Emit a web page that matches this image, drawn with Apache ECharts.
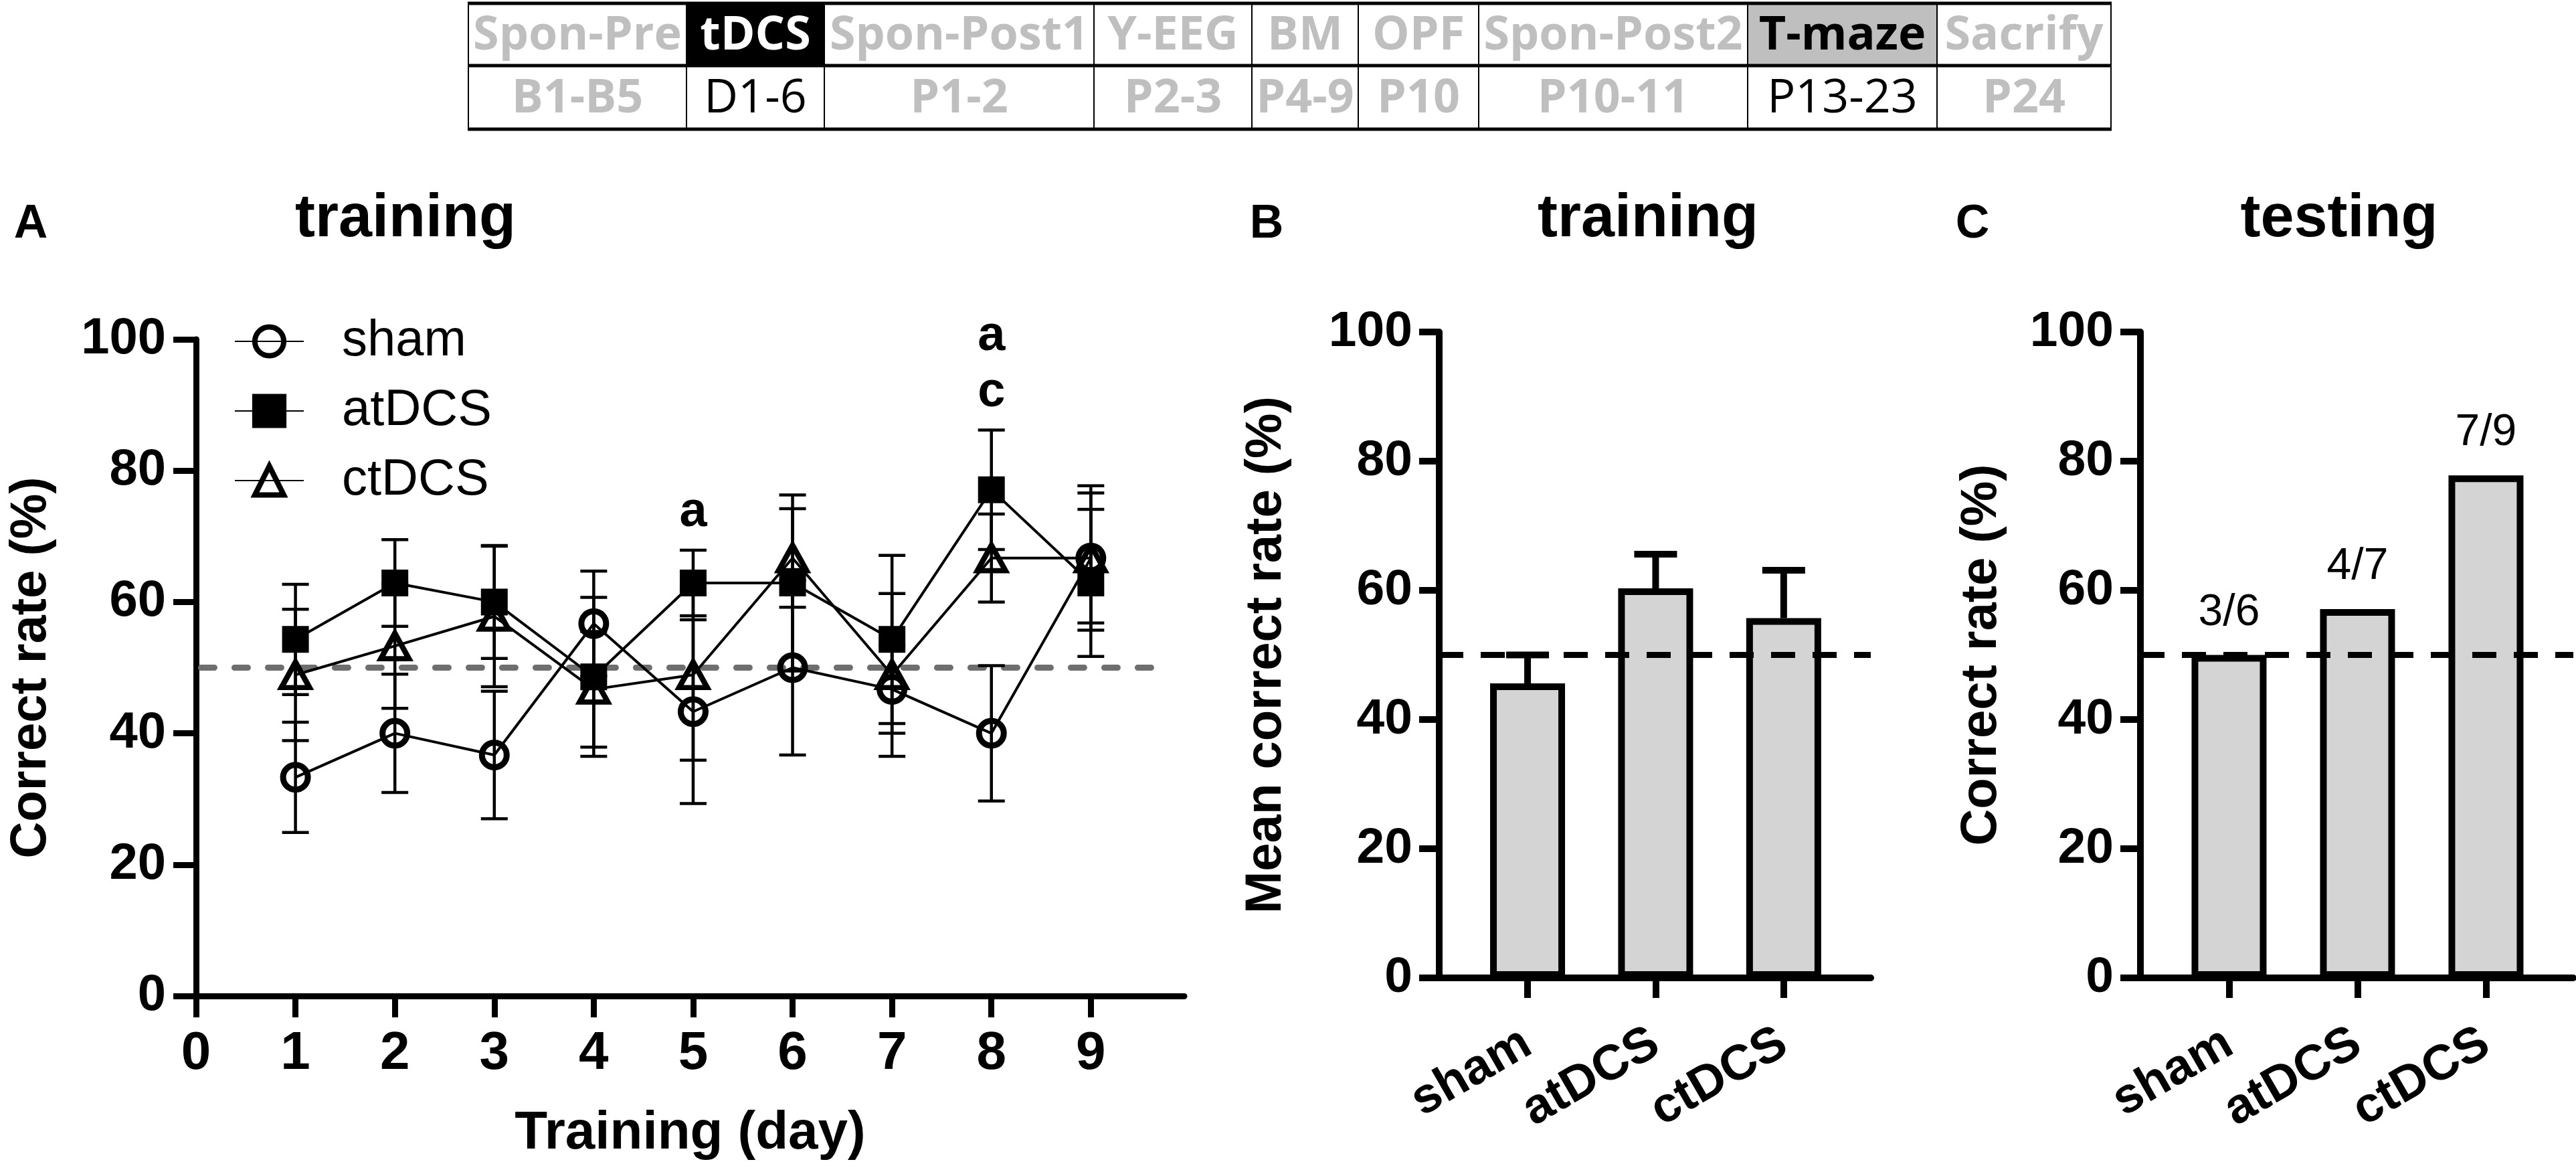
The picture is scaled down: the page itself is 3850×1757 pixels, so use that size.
<!DOCTYPE html>
<html>
<head>
<meta charset="utf-8">
<script src="https://cdn.jsdelivr.net/npm/echarts@6/dist/echarts.min.js"></script>
<style>
  html, body { margin: 0; padding: 0; background: #fff; }
  #main { width: 3850px; height: 1757px; }
</style>
</head>
<body>
<div id="main"></div>
<script>
// ---- data ----
var groups = ['sham', 'atDCS', 'ctDCS'];
var days = [1, 2, 3, 4, 5, 6, 7, 8, 9];
var xTicks = [0, 1, 2, 3, 4, 5, 6, 7, 8, 9];
var yTicks = [0, 20, 40, 60, 80, 100];

var shamMean = [33.3, 40.0, 36.7, 56.7, 43.3, 50.0, 46.7, 40.0, 66.7];
var shamErr  = [8.4, 9.0, 9.7, 8.0, 14.0, 13.3, 6.7, 10.3, 11.0];
var atMean   = [54.3, 62.9, 60.0, 48.6, 62.9, 62.9, 54.3, 77.1, 62.9];
var atErr    = [8.4, 6.6, 8.6, 12.1, 5.0, 13.4, 12.8, 9.1, 11.2];
var ctMean   = [48.9, 53.3, 57.8, 46.7, 48.9, 66.7, 48.9, 66.7, 66.7];
var ctErr    = [10.0, 9.5, 10.7, 8.8, 13.0, 7.5, 12.4, 6.7, 9.9];

var sigDays = [5, 8];
var sigText = ['a', 'a\nc'];

var chanceLevel = 50;

var trainMean = [45.6, 60.3, 55.7];
var trainErr  = [4.4, 5.3, 7.4];

var testRate   = [50.0, 57.1, 77.8];
var testLabels = ['3/6', '4/7', '7/9'];

var phaseNames = ['Spon-Pre', 'tDCS', 'Spon-Post1', 'Y-EEG', 'BM', 'OPF', 'Spon-Post2', 'T-maze', 'Sacrify'];
var phaseDays  = ['B1-B5', 'D1-6', 'P1-2', 'P2-3', 'P4-9', 'P10', 'P10-11', 'P13-23', 'P24'];
var phaseMark  = ['', 'dark', '', '', '', '', '', 'gray', ''];

// ---- layout ----
var FONT = "'Liberation Sans', Arial, sans-serif";
var colEdges = [700, 1026, 1232, 1635, 1871, 2030, 2210, 2612, 2895, 3155];
var rowY = [5, 98, 193];

var chart = echarts.init(document.getElementById('main'));

function pairs(xs, ys) {
    return xs.map(function (x, i) { return [x, ys[i]]; });
}
function triples(xs, ys, es) {
    return xs.map(function (x, i) { return [x, ys[i], es[i]]; });
}

function errRender(capHalf, lw, both) {
    return function (params, api) {
        var x = api.value(0), m = api.value(1), e = api.value(2);
        var top = api.coord([x, m + e]);
        var bot = api.coord([x, both ? m - e : m]);
        var st = { stroke: '#000', lineWidth: lw };
        var kids = [
            { type: 'line', shape: { x1: top[0], y1: top[1], x2: bot[0], y2: bot[1] }, style: st },
            { type: 'line', shape: { x1: top[0] - capHalf, y1: top[1], x2: top[0] + capHalf, y2: top[1] }, style: st }
        ];
        if (both) {
            kids.push({ type: 'line', shape: { x1: bot[0] - capHalf, y1: bot[1], x2: bot[0] + capHalf, y2: bot[1] }, style: st });
        }
        return { type: 'group', children: kids };
    };
}

// table at the top
var table = [];
for (var i = 0; i < phaseNames.length; i++) {
    var x0 = colEdges[i], x1 = colEdges[i + 1], cx = (x0 + x1) / 2;
    var mark = phaseMark[i];
    if (mark) {
        table.push({ type: 'rect', shape: { x: x0, y: rowY[0], width: x1 - x0, height: rowY[1] - rowY[0] },
            style: { fill: mark === 'dark' ? '#000' : '#bfbfbf' } });
    }
    table.push({ type: 'text', x: cx, y: (rowY[0] + rowY[1]) / 2 + 3,
        style: { text: phaseNames[i], fontSize: 70, fontWeight: 'bold', fontFamily: "'Open Sans', sans-serif",
            fill: mark === 'dark' ? '#fff' : (mark ? '#000' : '#bfbfbf'), align: 'center', verticalAlign: 'middle' } });
    table.push({ type: 'text', x: cx, y: (rowY[1] + rowY[2]) / 2 + 3,
        style: { text: phaseDays[i], fontSize: 70, fontWeight: mark ? 'normal' : 'bold', fontFamily: "'Open Sans', sans-serif",
            fill: mark ? '#000' : '#bfbfbf', align: 'center', verticalAlign: 'middle' } });
}
for (var j = 0; j < colEdges.length; j++) {
    table.push({ type: 'line', shape: { x1: colEdges[j], y1: rowY[0], x2: colEdges[j], y2: rowY[2] },
        style: { stroke: '#000', lineWidth: 2 } });
}
rowY.forEach(function (y) {
    table.push({ type: 'line', shape: { x1: colEdges[0] - 1, y1: y, x2: colEdges[colEdges.length - 1] + 1, y2: y },
        style: { stroke: '#000', lineWidth: 5 } });
});

function panelText(x, y, text, size) {
    return { type: 'text', x: x, y: y,
        style: { text: text, fontSize: size, fontWeight: 'bold', fontFamily: FONT, fill: '#000',
            align: 'center', verticalAlign: 'middle' } };
}
var headings = [
    panelText(46, 336, 'A', 70),
    panelText(606, 328, 'training', 90),
    panelText(1893, 336, 'B', 70),
    panelText(2463, 328, 'training', 90),
    panelText(2948, 336, 'C', 70),
    panelText(3496, 328, 'testing', 90)
];

var axisLine = function (w) { return { show: true, onZero: false, lineStyle: { color: '#000', width: w } }; };
var tickLabel = function (size, margin) {
    return { color: '#000', fontSize: size, fontWeight: 'bold', fontFamily: FONT, margin: margin };
};
var yName = { color: '#000', fontSize: 76, fontWeight: 'bold', fontFamily: FONT };

var option = {
    animation: false,
    backgroundColor: '#fff',
    graphic: table.concat(headings),
    legend: {
        data: groups,
        orient: 'vertical',
        left: 345,
        top: 467,
        itemWidth: 103,
        itemHeight: 54,
        itemGap: 28,
        selectedMode: false,
        itemStyle: { borderWidth: 8 },
        textStyle: { color: '#000', fontSize: 76, fontFamily: FONT, padding: [0, 0, 0, 52] }
    },
    grid: [
        { left: 293, top: 507, width: 1477, height: 981 },
        { left: 2151, top: 496, width: 645, height: 965 },
        { left: 3199, top: 496, width: 647, height: 965 }
    ],
    xAxis: [
        {
            gridIndex: 0, type: 'value', min: 0, max: 9.94,
            axisLine: axisLine(9),
            axisTick: { show: true, customValues: xTicks, length: 32, lineStyle: { color: '#000', width: 9 } },
            axisLabel: Object.assign(tickLabel(80, 47), { customValues: xTicks }),
            splitLine: { show: false },
            name: 'Training (day)', nameLocation: 'middle', nameGap: 166,
            nameTextStyle: { color: '#000', fontSize: 80, fontWeight: 'bold', fontFamily: FONT }
        },
        {
            gridIndex: 1, type: 'value', min: -0.69, max: 2.68,
            axisLine: axisLine(10),
            axisTick: { show: true, customValues: [0, 1, 2], length: 30, lineStyle: { color: '#000', width: 10 } },
            axisLabel: Object.assign(tickLabel(74, 93), {
                customValues: [0, 1, 2], rotate: 30,
                formatter: function (v) { return groups[Math.round(v)]; }
            }),
            splitLine: { show: false }
        },
        {
            gridIndex: 2, type: 'value', min: -0.69, max: 2.68,
            axisLine: axisLine(10),
            axisTick: { show: true, customValues: [0, 1, 2], length: 30, lineStyle: { color: '#000', width: 10 } },
            axisLabel: Object.assign(tickLabel(74, 93), {
                customValues: [0, 1, 2], rotate: 30,
                formatter: function (v) { return groups[Math.round(v)]; }
            }),
            splitLine: { show: false }
        }
    ],
    yAxis: [
        {
            gridIndex: 0, type: 'value', min: 0, max: 100, interval: 20,
            axisLine: axisLine(9),
            axisTick: { show: true, length: 34, lineStyle: { color: '#000', width: 9 } },
            axisLabel: Object.assign(tickLabel(76, 45), { customValues: yTicks }),
            splitLine: { show: false },
            name: 'Correct rate (%)', nameLocation: 'middle', nameGap: 208, nameTextStyle: yName
        },
        {
            gridIndex: 1, type: 'value', min: 0, max: 100, interval: 20,
            axisLine: axisLine(10),
            axisTick: { show: true, length: 30, lineStyle: { color: '#000', width: 10 } },
            axisLabel: Object.assign(tickLabel(75, 40), { customValues: yTicks }),
            splitLine: { show: false },
            name: 'Mean correct rate (%)', nameLocation: 'middle', nameGap: 220, nameTextStyle: yName
        },
        {
            gridIndex: 2, type: 'value', min: 0, max: 100, interval: 20,
            axisLine: axisLine(10),
            axisTick: { show: true, length: 30, lineStyle: { color: '#000', width: 10 } },
            axisLabel: Object.assign(tickLabel(75, 40), { customValues: yTicks }),
            splitLine: { show: false },
            name: 'Correct rate (%)', nameLocation: 'middle', nameGap: 199, nameTextStyle: yName
        }
    ],
    series: [
        // panel A error bars
        { type: 'custom', name: 'sham-err', xAxisIndex: 0, yAxisIndex: 0, z: 1,
          renderItem: errRender(20, 4.5, true), encode: { x: 0, y: 1 }, data: triples(days, shamMean, shamErr) },
        { type: 'custom', name: 'atDCS-err', xAxisIndex: 0, yAxisIndex: 0, z: 1,
          renderItem: errRender(20, 4.5, true), encode: { x: 0, y: 1 }, data: triples(days, atMean, atErr) },
        { type: 'custom', name: 'ctDCS-err', xAxisIndex: 0, yAxisIndex: 0, z: 1,
          renderItem: errRender(20, 4.5, true), encode: { x: 0, y: 1 }, data: triples(days, ctMean, ctErr) },
        // panel A lines
        {
            type: 'line', name: 'sham', xAxisIndex: 0, yAxisIndex: 0, z: 3,
            data: pairs(days, shamMean),
            symbol: 'circle', symbolSize: 37,
            itemStyle: { color: 'rgba(255,255,255,0)', borderColor: '#000', borderWidth: 9 },
            lineStyle: { color: '#000', width: 4 },
            markLine: {
                silent: true, symbol: ['none', 'none'], z: 1,
                label: { show: false },
                lineStyle: { color: '#6e6e6e', width: 9, type: [20, 30], cap: 'round' },
                data: [[{ coord: [0.05, chanceLevel] }, { coord: [9.73, chanceLevel] }]]
            }
        },
        {
            type: 'line', name: 'atDCS', xAxisIndex: 0, yAxisIndex: 0, z: 3,
            data: pairs(days, atMean),
            symbol: 'rect', symbolSize: 40,
            itemStyle: { color: '#000', borderColor: '#000', borderWidth: 0 },
            lineStyle: { color: '#000', width: 4 }
        },
        {
            type: 'line', name: 'ctDCS', xAxisIndex: 0, yAxisIndex: 0, z: 3,
            data: pairs(days, ctMean),
            symbol: 'triangle', symbolSize: [42, 38],
            itemStyle: { color: 'rgba(255,255,255,0)', borderColor: '#000', borderWidth: 8 },
            lineStyle: { color: '#000', width: 4 }
        },
        // significance letters above atDCS error bars
        {
            type: 'scatter', name: 'sig', xAxisIndex: 0, yAxisIndex: 0, z: 4,
            symbolSize: 0,
            itemStyle: { opacity: 1 },
            data: sigDays.map(function (d) {
                var k = days.indexOf(d);
                return [d, atMean[k] + atErr[k]];
            }),
            label: {
                show: true, position: 'top', distance: 14,
                formatter: function (p) { return sigText[p.dataIndex]; },
                color: '#000', opacity: 1, fontSize: 74, fontWeight: 'bold', fontFamily: FONT, lineHeight: 84
            }
        },
        // panel B
        {
            type: 'bar', name: 'trainBar', xAxisIndex: 1, yAxisIndex: 1, z: 2,
            data: pairs([0, 1, 2], trainMean),
            barWidth: 112,
            itemStyle: { color: '#d4d4d4', borderColor: '#000', borderWidth: 10 },
            markLine: {
                silent: true, symbol: ['none', 'none'],
                label: { show: false },
                lineStyle: { color: '#000', width: 9, type: [36, 26] },
                data: [{ yAxis: chanceLevel }]
            }
        },
        { type: 'custom', name: 'trainErr', xAxisIndex: 1, yAxisIndex: 1, z: 1,
          renderItem: errRender(32, 10, false), encode: { x: 0, y: 1 }, data: triples([0, 1, 2], trainMean, trainErr) },
        // panel C
        {
            type: 'bar', name: 'testBar', xAxisIndex: 2, yAxisIndex: 2, z: 2,
            data: pairs([0, 1, 2], testRate),
            barWidth: 112,
            itemStyle: { color: '#d4d4d4', borderColor: '#000', borderWidth: 10 },
            label: {
                show: true, position: 'top', distance: 30,
                formatter: function (p) { return testLabels[p.dataIndex]; },
                color: '#000', fontSize: 66, fontFamily: FONT
            },
            markLine: {
                silent: true, symbol: ['none', 'none'],
                label: { show: false },
                lineStyle: { color: '#000', width: 9, type: [36, 26] },
                data: [{ yAxis: chanceLevel }]
            }
        }
    ]
};

chart.setOption(option);
window.onresize = function () { chart.resize(); };
</script>
</body>
</html>
